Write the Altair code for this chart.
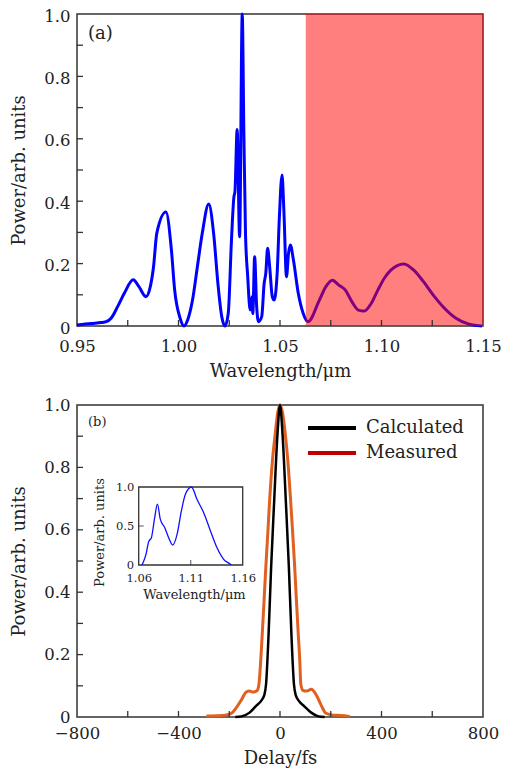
import altair as alt
import pandas as pd

# ---------------- Panel (a): broadband spectrum ----------------
A_WL = [0.950, 0.957, 0.962, 0.9644, 0.9668, 0.970, 0.9733, 0.9777, 0.9805, 0.984, 0.9861,
        0.9877, 0.9893, 0.9938, 0.9965, 0.9981, 1.0008, 1.0027, 1.0045, 1.0069, 1.0093,
        1.0117, 1.0149, 1.0173, 1.0194, 1.0213, 1.0229, 1.0245, 1.0261, 1.0273, 1.0278,
        1.0289, 1.0301, 1.0314, 1.0322, 1.0330, 1.0341, 1.0353, 1.0362, 1.0366, 1.0375,
        1.0385, 1.0394, 1.0410, 1.0422, 1.0430, 1.0439, 1.0449, 1.0462, 1.0471, 1.0486,
        1.0497, 1.0510, 1.0519, 1.0532, 1.0542, 1.0551, 1.0566, 1.0590, 1.0614, 1.0638,
        1.0694, 1.0726, 1.0758, 1.0790, 1.0822, 1.0854, 1.0886, 1.0915, 1.0950, 1.0982,
        1.1014, 1.1046, 1.1110, 1.1159, 1.1207, 1.1255, 1.1303, 1.1367, 1.1431, 1.1495]
A_P = [0.003, 0.008, 0.011, 0.014, 0.025, 0.062, 0.105, 0.148, 0.126, 0.094, 0.126,
       0.19, 0.297, 0.365, 0.244, 0.116, 0.025, 0.0, 0.019, 0.083, 0.19,
       0.297, 0.391, 0.297, 0.137, 0.03, 0.0, 0.04, 0.276, 0.414, 0.43,
       0.63, 0.286, 1.0, 0.62, 0.297, 0.158, 0.051, 0.094, 0.04, 0.222,
       0.062, 0.014, 0.03, 0.137, 0.169, 0.249, 0.19, 0.094, 0.083, 0.169,
       0.35, 0.484, 0.372, 0.158, 0.233, 0.26, 0.212, 0.105, 0.041, 0.014,
       0.083, 0.126, 0.147, 0.131, 0.115, 0.078, 0.051, 0.048, 0.073, 0.115,
       0.153, 0.179, 0.199, 0.179, 0.142, 0.099, 0.062, 0.025, 0.006, 0.0]
SHADE_START = [1.0627]
SHADE_END = [1.15]
A_X_LABELS = [0.95, 1.00, 1.05, 1.10, 1.15]
A_X_TICKS = [0.975, 1.0, 1.025, 1.05, 1.075, 1.1, 1.125]
Y_LABELS = [0, 0.2, 0.4, 0.6, 0.8, 1.0]
Y_TICKS = [0.1, 0.2, 0.3, 0.4, 0.5, 0.6, 0.7, 0.8, 0.9]
PANEL_A_LABEL = ["(a)"]

# ---------------- Panel (b): autocorrelation ----------------
MEAS_DELAY = [-290, -250, -216, -191, -172, -152, -133, -120, -105, -90, -83, -76, -70, -63,
              -56, -48, -41, -30, -19, -9, 0, 10, 21, 31, 42, 50, 58, 65, 72, 78, 82, 91,
              105, 123, 142, 162, 181, 210, 240, 275]
MEAS_P = [0.003, 0.004, 0.006, 0.012, 0.03, 0.055, 0.08, 0.083, 0.08, 0.085, 0.105, 0.18, 0.265, 0.37,
          0.479, 0.59, 0.692, 0.82, 0.906, 0.975, 1.0, 0.975, 0.906, 0.82, 0.692, 0.59, 0.479, 0.37,
          0.265, 0.18, 0.105, 0.085, 0.083, 0.089, 0.072, 0.038, 0.012, 0.006, 0.005, 0.002]
CALC_DELAY = [-176, -152, -120, -95, -75, -62, -55, -45, -35, -23, -10, 0,
              10, 23, 35, 45, 55, 62, 75, 95, 123, 152, 176]
CALC_P = [0.0, 0.002, 0.014, 0.035, 0.051, 0.07, 0.105, 0.265, 0.479, 0.692, 0.906, 1.0,
          0.906, 0.692, 0.479, 0.265, 0.105, 0.07, 0.051, 0.035, 0.014, 0.002, 0.0]
B_X_LABELS = [-800, -400, 0, 400, 800]
B_X_TICKS = [-600, -400, -200, 0, 200, 400, 600]
LEGEND_NAMES = ["Calculated", "Measured"]
LEGEND_COLORS = ["#000000", "#C00000"]
PANEL_B_LABEL = ["(b)"]

# inset spectrum
INSET_WL = [1.0632, 1.067, 1.0696, 1.0722, 1.0754, 1.0780, 1.0808, 1.085, 1.0888, 1.0927,
            1.0969, 1.101, 1.1049, 1.1107, 1.1161, 1.1225, 1.129, 1.1353, 1.1417, 1.1482, 1.149]
INSET_P = [0.0, 0.136, 0.30, 0.35, 0.61, 0.78, 0.585, 0.48, 0.35, 0.256,
           0.393, 0.69, 0.906, 1.0, 0.84, 0.67, 0.436, 0.22, 0.073, 0.01, 0.0]
INSET_X_RANGE = [1.06, 1.16]
INSET_Y_RANGE = [0.0, 1.0]
INSET_X_LABELS = [1.06, 1.11, 1.16]
INSET_Y_LABELS = [0, 0.5, 1.0]
INSET_X_TICKS = [1.11]
INSET_Y_TICKS = [0.5]

# ---------------- styling / layout ----------------
FONT = "DejaVu Serif"
INK = "#222222"
FRAME = "#333333"
W, H = 406, 312
LFS = 16.5   # tick labels
TFS = 18     # axis titles / legend
IFS = 11.5   # inset tick labels
ITFS = 13    # inset titles
TICK = 6
ZERO_LABEL = "datum.value == 0 ? '0' : format(datum.value, '.1f')"
# inset box in plot pixels (left, right, top, bottom)
IL, IR, IT, IB = 61.7, 165.7, 82.0, 160.0
SPACING = 15
PANEL_GAP = 390  # distance between the two plot tops (legend is placed from the top panel)


def x_axis(values, fmt, title, lp, tp):
    return alt.Axis(values=values, format=fmt, title=title, ticks=False, tickSize=0,
                    domain=False, grid=False, labelPadding=lp, titlePadding=tp,
                    labelFlush=False, labelOverlap=False)


def y_axis(label_offset):
    return alt.Axis(values=Y_LABELS, labelExpr=ZERO_LABEL, title="Power/arb. units", ticks=False,
                    tickSize=0, domain=False, grid=False, labelPadding=7, labelOffset=label_offset,
                    titlePadding=15, labelFlush=False, labelOverlap=False)


YS = alt.Scale(domain=[0, 1], nice=False)


def x_ticks(values, xs, ax):
    return alt.Chart(pd.DataFrame({"t": values})).mark_rule(
        color=FRAME, strokeWidth=1.3).encode(
        x=alt.X("t:Q", scale=xs, axis=ax),
        y=alt.value(H), y2=alt.value(H - TICK))


def y_ticks(values, ax):
    return alt.Chart(pd.DataFrame({"t": values})).mark_rule(
        color=FRAME, strokeWidth=1.3).encode(
        y=alt.Y("t:Q", scale=YS, axis=ax),
        x=alt.value(0), x2=alt.value(TICK))


# ---- panel (a)
XS_A = alt.Scale(domain=[0.95, 1.15], nice=False, zero=False)
AX_A_X = x_axis(A_X_LABELS, ".2f", "Wavelength/μm", 12.5, 7)
AX_A_Y = y_axis(2)
df_a = pd.DataFrame({"wl": A_WL, "p": A_P})
line_a = alt.Chart(df_a).mark_line(color="#0000FF", strokeWidth=3, interpolate="monotone").encode(
    x=alt.X("wl:Q", scale=XS_A, axis=AX_A_X),
    y=alt.Y("p:Q", scale=YS, axis=AX_A_Y),
)
shade_a = alt.Chart(pd.DataFrame({"s": SHADE_START, "e": SHADE_END})).mark_rect(
    color="#FF0000", opacity=0.5).encode(
    x=alt.X("s:Q", scale=XS_A, axis=AX_A_X),
    x2="e:Q", y=alt.value(0), y2=alt.value(H))
label_a = alt.Chart(pd.DataFrame({"label": PANEL_A_LABEL})).mark_text(
    font=FONT, fontSize=18, color=INK, align="left", baseline="middle").encode(
    text="label:N", x=alt.value(11), y=alt.value(20))
panel_a = alt.layer(line_a, shade_a, x_ticks(A_X_TICKS, XS_A, AX_A_X), y_ticks(Y_TICKS, AX_A_Y),
                    label_a).properties(width=W, height=H)

# ---- panel (b)
XS_B = alt.Scale(domain=[-800, 800], nice=False, zero=False)
AX_B_X = x_axis(B_X_LABELS, "d", "Delay/fs", 8, 8)
AX_B_Y = y_axis(0)
df_meas = pd.DataFrame({"d": MEAS_DELAY, "p": MEAS_P})
df_calc = pd.DataFrame({"d": CALC_DELAY, "p": CALC_P})
meas = alt.Chart(df_meas).mark_line(color="#E06020", strokeWidth=3, interpolate="monotone").encode(
    x=alt.X("d:Q", scale=XS_B, axis=AX_B_X),
    y=alt.Y("p:Q", scale=YS, axis=AX_B_Y),
)
calc = alt.Chart(df_calc).mark_line(color="#000000", strokeWidth=2.5, interpolate="monotone").encode(
    x=alt.X("d:Q", scale=XS_B, axis=AX_B_X),
    y=alt.Y("p:Q", scale=YS, axis=AX_B_Y),
)
legend_layer = alt.Chart(pd.DataFrame({"series": LEGEND_NAMES, "d": [0, 0], "p": [0, 0]})).mark_line(
    strokeWidth=4).encode(
    x=alt.X("d:Q", scale=XS_B, axis=AX_B_X),
    y=alt.Y("p:Q", scale=YS, axis=AX_B_Y),
    color=alt.Color("series:N", scale=alt.Scale(domain=LEGEND_NAMES, range=LEGEND_COLORS),
                    legend=alt.Legend(title=None, orient="none", legendX=243,
                                      legendY=PANEL_GAP + 12,
                                      symbolType="M-2.4,0H2.4", symbolSize=400,
                                      symbolStrokeWidth=4, labelFont=FONT, labelFontSize=TFS,
                                      labelColor=INK, labelOffset=22, rowPadding=4, padding=0)),
).transform_filter("false")
label_b = alt.Chart(pd.DataFrame({"label": PANEL_B_LABEL})).mark_text(
    font=FONT, fontSize=13, color=INK, align="left", baseline="middle").encode(
    text="label:N", x=alt.value(11), y=alt.value(17))
b_main = alt.layer(meas, calc, legend_layer, x_ticks(B_X_TICKS, XS_B, AX_B_X),
                   y_ticks(Y_TICKS, AX_B_Y), label_b)

# inset scales: domains chosen so the inset range lands in its box
ix_per_px = (INSET_X_RANGE[1] - INSET_X_RANGE[0]) / (IR - IL)
IX_DOM = [INSET_X_RANGE[0] - IL * ix_per_px, INSET_X_RANGE[0] - IL * ix_per_px + W * ix_per_px]
iy_per_px = (INSET_Y_RANGE[1] - INSET_Y_RANGE[0]) / (IB - IT)
IY_DOM = [INSET_Y_RANGE[1] + IT * iy_per_px - H * iy_per_px, INSET_Y_RANGE[1] + IT * iy_per_px]
isx = alt.Scale(domain=IX_DOM, nice=False, zero=False)
isy = alt.Scale(domain=IY_DOM, nice=False, zero=False)
AX_IX = alt.Axis(orient="bottom", offset=-(H - IB), values=INSET_X_LABELS, format=".2f",
                 ticks=False, tickSize=0, domain=False, grid=False, labelFontSize=IFS,
                 labelPadding=7, labelFlush=False, labelOverlap=False,
                 title="Wavelength/μm", titleFontSize=ITFS, titleX=117, titleY=33,
                 titleBaseline="alphabetic", titleAlign="center")
AX_IY = alt.Axis(orient="left", offset=-IL, values=INSET_Y_LABELS, labelExpr=ZERO_LABEL,
                 ticks=False, tickSize=0, domain=False, grid=False, labelFontSize=IFS,
                 labelPadding=5, labelFlush=False, labelOverlap=False,
                 title="Power/arb. units", titleFontSize=ITFS, titleX=-32, titleY=127,
                 titleAlign="center")

inset_frame = alt.Chart(pd.DataFrame({"x0": [INSET_X_RANGE[0]], "x1": [INSET_X_RANGE[1]],
                                      "y0": [INSET_Y_RANGE[0]], "y1": [INSET_Y_RANGE[1]]})).mark_rect(
    fill="white", stroke=FRAME, strokeWidth=1.3).encode(
    x=alt.X("x0:Q", scale=isx, axis=AX_IX), x2="x1:Q",
    y=alt.Y("y0:Q", scale=isy, axis=AX_IY), y2="y1:Q",
)
inset_line = alt.Chart(pd.DataFrame({"wl": INSET_WL, "p": INSET_P})).mark_line(
    color="#1010FF", strokeWidth=1.3, interpolate="monotone").encode(
    x=alt.X("wl:Q", scale=isx, axis=AX_IX), y=alt.Y("p:Q", scale=isy, axis=AX_IY))
inset_xt = alt.Chart(pd.DataFrame({"t": INSET_X_TICKS, "y": [INSET_Y_RANGE[0]]})).mark_tick(
    orient="vertical", size=5, thickness=1.2, color=FRAME, yOffset=-2.5).encode(
    x=alt.X("t:Q", scale=isx, axis=AX_IX), y=alt.Y("y:Q", scale=isy, axis=AX_IY))
inset_yt = alt.Chart(pd.DataFrame({"t": INSET_Y_TICKS, "x": [INSET_X_RANGE[0]]})).mark_tick(
    orient="horizontal", size=5, thickness=1.2, color=FRAME, xOffset=2.5).encode(
    y=alt.Y("t:Q", scale=isy, axis=AX_IY), x=alt.X("x:Q", scale=isx, axis=AX_IX))
inset = alt.layer(inset_frame, inset_line, inset_xt, inset_yt)

panel_b = alt.layer(b_main, inset).resolve_scale(x="independent", y="independent").properties(
    width=W, height=H)

chart = alt.vconcat(panel_a, panel_b, spacing=SPACING).properties(
    padding={"left": 2, "top": -1, "right": 0, "bottom": 0}
).configure_view(stroke=FRAME, strokeWidth=1.5).configure_axis(
    labelFont=FONT, titleFont=FONT, labelFontSize=LFS, titleFontSize=TFS,
    titleFontWeight="normal", labelColor=INK, titleColor=INK,
).configure_text(font=FONT)

chart.save("out.html", embed_options={"renderer": "svg", "actions": False})
